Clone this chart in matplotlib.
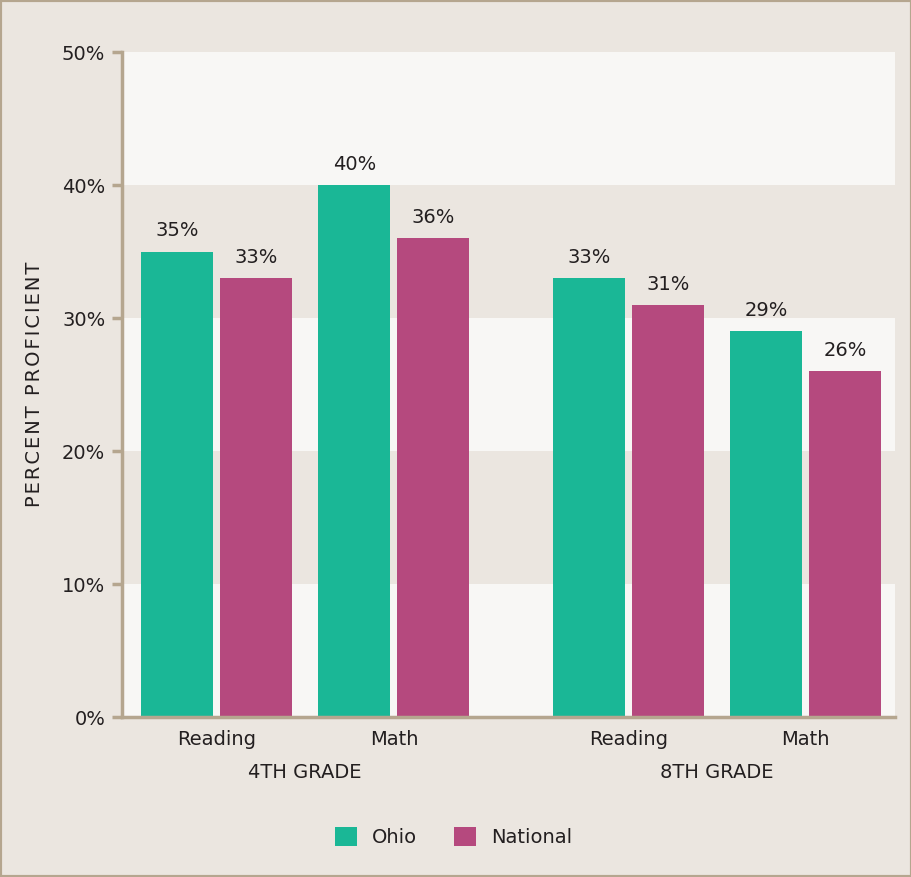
import numpy as np
import matplotlib.pyplot as plt
from matplotlib.patches import Rectangle

plt.rcParams['font.family'] = ['DejaVu Sans']

subjects = ["Reading", "Math", "Reading", "Math"]
grades = ["4TH GRADE", "8TH GRADE"]
ohio = [35, 40, 33, 29]
national = [33, 36, 31, 26]
series_names = ["Ohio", "National"]
ylabel = "PERCENT PROFICIENT"

teal = "#1ab796"
berry = "#b5497e"
bg = "#ebe6e0"
band = "#f8f7f5"
axcol = "#b5a68f"
txt = "#231f20"
fs = 14

pos = np.array([0, 1, 2.32, 3.32])
w = 0.406
off = 0.2225

fig = plt.figure(figsize=(9.12, 8.77), dpi=100)
fig.patch.set_facecolor(bg)
ax = fig.add_axes([0.1338, 0.1824, 0.8476, 0.7583])
ax.set_facecolor(bg)

# alternating bands
for lo in (0, 20, 40):
    ax.axhspan(lo, lo + 10, color=band, zorder=0, lw=0)

b1 = ax.bar(pos - off, ohio, w, color=teal, zorder=2, label=series_names[0])
b2 = ax.bar(pos + off, national, w, color=berry, zorder=2, label=series_names[1])

for bars, vals in ((b1, ohio), (b2, national)):
    for r, v in zip(bars, vals):
        ax.annotate(f"{v}%", (r.get_x() + r.get_width() / 2, v), xytext=(0, 8),
                    textcoords="offset points", ha="center", va="bottom",
                    fontsize=fs, color=txt)

ax.set_xlim(-0.532, 3.823)
ax.set_ylim(0, 50)
ax.set_yticks(range(0, 51, 10))
ax.set_yticklabels([f"{t}%" for t in range(0, 51, 10)], fontsize=fs, color=txt)
ax.set_xticks(pos)
ax.set_xticklabels(subjects, fontsize=fs, color=txt)
ax.tick_params(axis="x", length=0, pad=9)
ax.tick_params(axis="y", length=7, width=2.5, color=axcol, pad=5)

for s in ("top", "right"):
    ax.spines[s].set_visible(False)
for s in ("left", "bottom"):
    ax.spines[s].set_color(axcol)
    ax.spines[s].set_linewidth(2.5)

# grade labels under the subjects
for g, c in zip(grades, [(pos[0] + pos[1]) / 2, (pos[2] + pos[3]) / 2]):
    ax.annotate(g, (c, 0), xytext=(0, -33), textcoords="offset points",
                ha="center", va="top", fontsize=fs, color=txt)

# letter-spaced axis title
ax.set_ylabel("\u200a".join(ylabel), fontsize=fs, color=txt, labelpad=13)

leg = fig.legend(handles=[b1, b2], loc="center", bbox_to_anchor=(0.497, 0.0456),
                 ncol=2, frameon=False, fontsize=fs, handlelength=1.13,
                 handleheight=1.13, columnspacing=1.9, handletextpad=0.77,
                 labelcolor=txt)

fig.add_artist(Rectangle((0, 0), 1, 1, transform=fig.transFigure, fill=False,
                         edgecolor=axcol, lw=3))

fig.savefig("out.png", dpi=100, facecolor=bg)
